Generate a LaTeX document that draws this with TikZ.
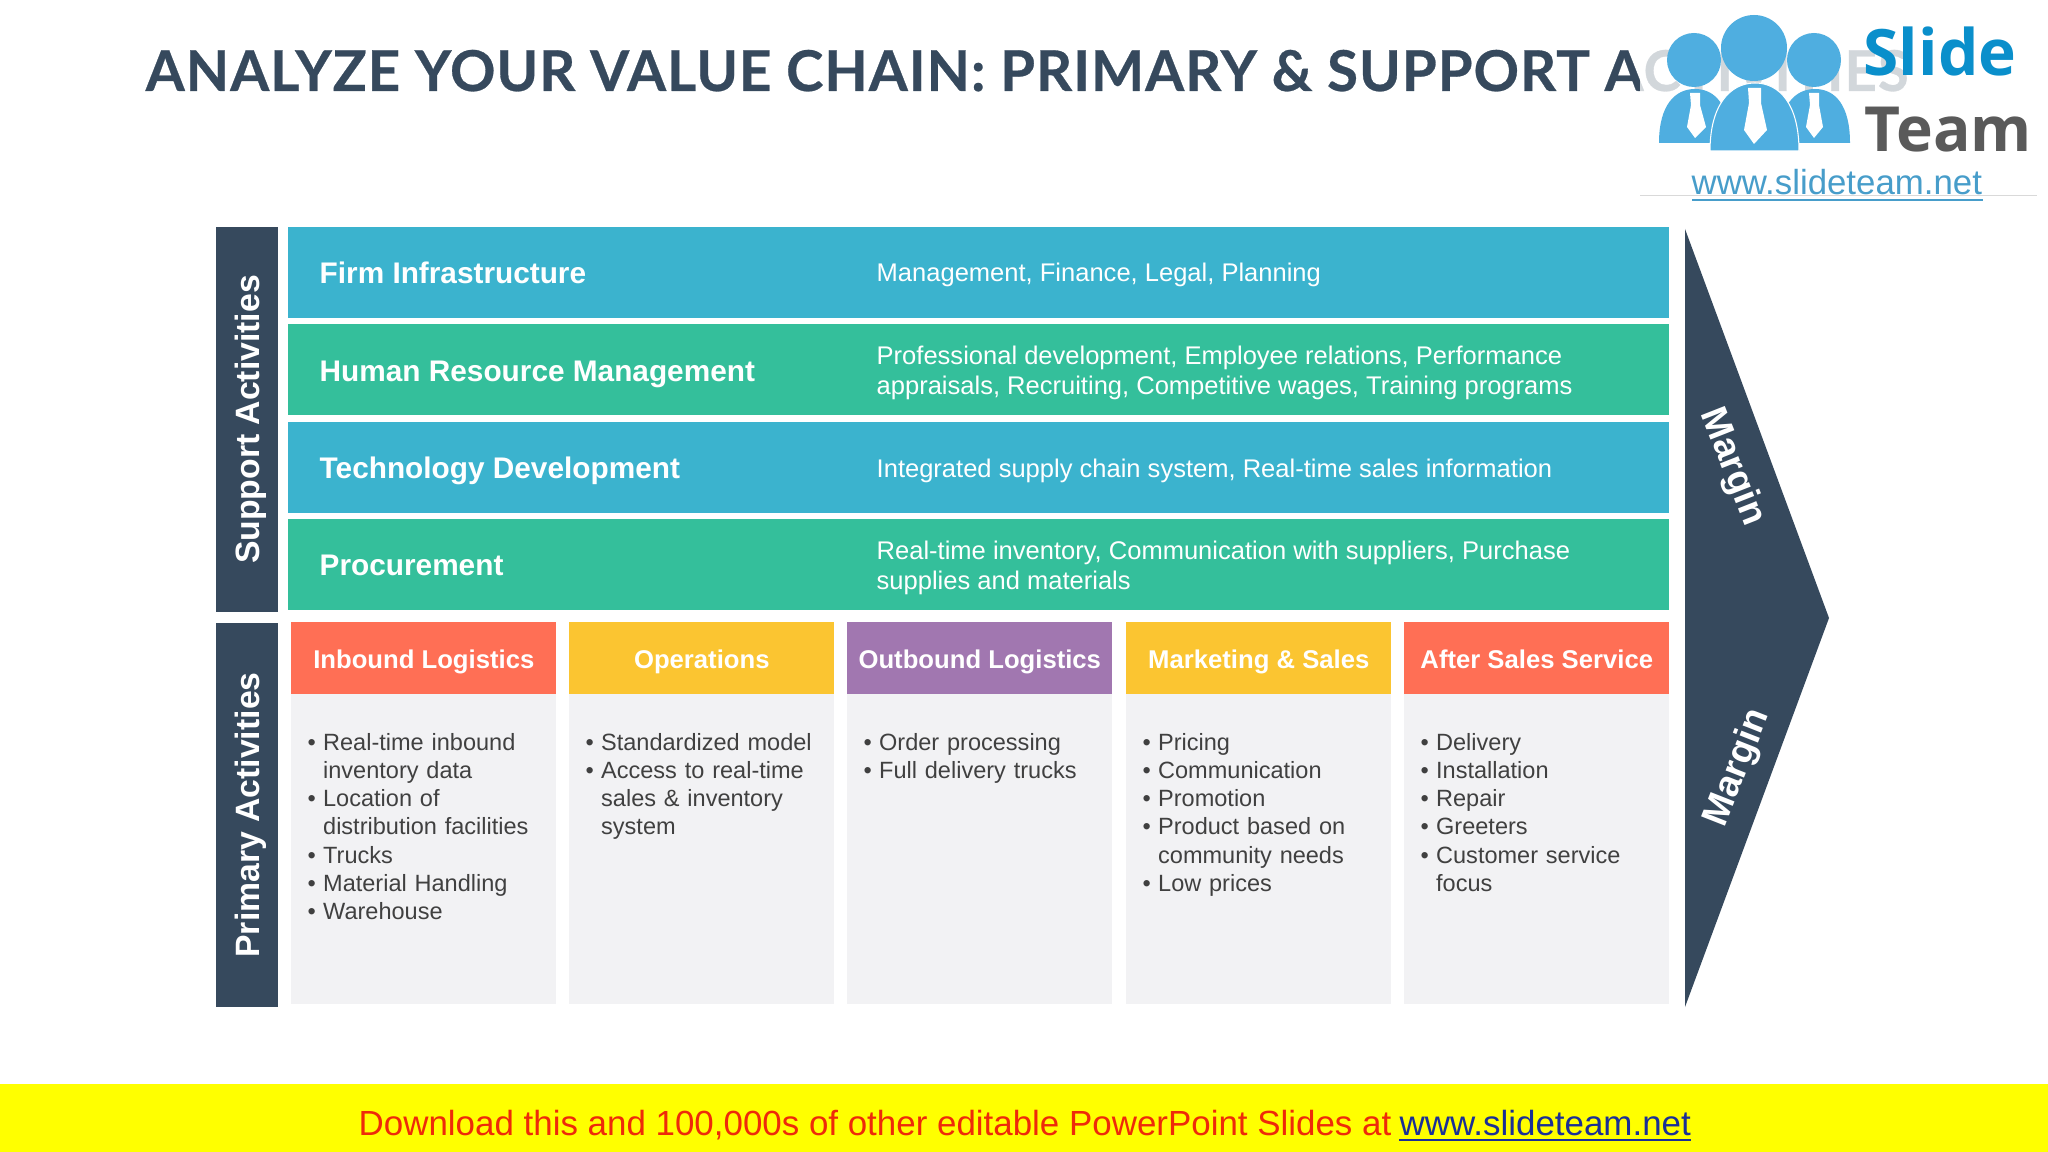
\documentclass[tikz,border=0pt]{standalone}
\usepackage{fontspec}
\setmainfont{Liberation Sans}
\newfontfamily\titlefont[LetterSpace=1.8,BoldFeatures={FakeBold=0.5}]{Lato}
\newfontfamily\logofont{Open Sans}
\usetikzlibrary{positioning, shapes}
\definecolor{darkbar}{HTML}{36495D}
\definecolor{rowblue}{HTML}{3BB3CE}
\definecolor{rowgreen}{HTML}{34BF9B}
\definecolor{headred}{HTML}{FF6F55}
\definecolor{headyellow}{HTML}{FBC531}
\definecolor{headpurple}{HTML}{A177B0}
\definecolor{bodygrey}{HTML}{F2F2F4}
\definecolor{textgrey}{HTML}{404040}
\definecolor{logoblue}{HTML}{4FAEE0}
\definecolor{slideblue}{HTML}{0A8FCB}
\definecolor{teamgrey}{HTML}{5A5A5A}
\definecolor{bandyellow}{HTML}{FFFF00}
\definecolor{bandred}{HTML}{EE2A0A}
\definecolor{bandblue}{HTML}{1A2F96}
\newcommand{\bul}{\par\hangindent=4.4pt\hangafter=1\makebox[4.4pt][l]{\textbullet}\ignorespaces}

\begin{document}
\begin{tikzpicture}[x=0.01cm,y=-0.01cm,
    sidebar/.style = {fill=darkbar, minimum width=17.7pt, inner sep=0pt},
    sidetext/.style = {text=white, rotate=90, font=\bfseries\fontsize{9.6}{12}\selectfont},
    rowbox/.style = {anchor=north west, minimum width=392.9pt, minimum height=25.7pt, inner sep=0pt},
    rowtitle/.style = {anchor=base west, text=white, inner sep=0pt, font=\bfseries\fontsize{8.47}{10}\selectfont},
    rowtext/.style = {anchor=west, text=white, inner sep=0pt, align=left, font=\fontsize{7.26}{8.6}\selectfont},
    headbox/.style = {anchor=north west, minimum width=75.4pt, minimum height=20.5pt, inner sep=0pt,
        text height=6.6pt, text depth=0.8pt, text=white, font=\bfseries\fontsize{7.3}{9}\selectfont},
    bodybox/.style = {anchor=north west, fill=bodygrey, minimum width=75.4pt, minimum height=88.2pt, inner sep=0pt},
    bodytext/.style = {anchor=north west, text=textgrey, text width=72pt, align=left, inner sep=0pt,
        font=\fontsize{6.69}{8.03}\selectfont},
    margintext/.style = {text=white, font=\bfseries\fontsize{10.6}{12}\selectfont}]

    \useasboundingbox (0,0) rectangle (2048,1152);
    \fill[white] (0,0) rectangle (2048,1152);

    % title, the logo panel goes over its end
    \node[anchor=base west, inner sep=0pt, text=darkbar, font=\titlefont\bfseries\fontsize{16}{20}\selectfont] (title) at (145,91)
        {ANALYZE YOUR VALUE CHAIN: PRIMARY \& SUPPORT ACTIVITIES};

    % side bars
    \node[sidebar, minimum height=109.5pt] (support) at (247,419.5) {};
    \node[sidebar, minimum height=109.2pt] (primary) at (247,815) {};
    \node[sidetext] (supporttext) at (251,419.5) {Support Activities};
    \node[sidetext] (primarytext) at (251,815) {Primary Activities};

    % support rows
    \node[rowbox, fill=rowblue] (firm) at (287,226.5) {};
    \node[rowbox, fill=rowgreen] (human) at (287,323.5) {};
    \node[rowbox, fill=rowblue] (tech) at (287,421.5) {};
    \node[rowbox, fill=rowgreen] (proc) at (287,518.5) {};

    \node[rowtitle] (firmtitle) at (319,283.4) {Firm Infrastructure};
    \node[rowtitle] (humantitle) at (319,381.4) {Human Resource Management};
    \node[rowtitle] (techtitle) at (319,478.4) {Technology Development};
    \node[rowtitle] (proctitle) at (319,575.8) {Procurement};

    \node[rowtext] (firmtext) at (876,275) {Management, Finance, Legal, Planning};
    \node[rowtext] (humantext) at (876,372.8) {Professional development, Employee relations, Performance\\appraisals, Recruiting, Competitive wages, Training programs};
    \node[rowtext] (techtext) at (876,470.5) {Integrated supply chain system, Real-time sales information};
    \node[rowtext] (proctext) at (876,568) {Real-time inventory, Communication with suppliers, Purchase\\supplies and materials};

    % primary columns
    \node[bodybox] (inboundbody) at (290.5,693.5) {};
    \node[bodybox] (opsbody) at (568.5,693.5) {};
    \node[bodybox] (outboundbody) at (846.5,693.5) {};
    \node[bodybox] (marketbody) at (1125.5,693.5) {};
    \node[bodybox] (afterbody) at (1403.5,693.5) {};

    \node[headbox, fill=headred] (inbound) at (290.5,621.5) {Inbound Logistics};
    \node[headbox, fill=headyellow] (ops) at (568.5,621.5) {Operations};
    \node[headbox, fill=headpurple] (outbound) at (846.5,621.5) {Outbound Logistics};
    \node[headbox, fill=headyellow] (market) at (1125.5,621.5) {Marketing \& Sales};
    \node[headbox, fill=headred] (after) at (1403.5,621.5) {After Sales Service};

    \node[bodytext] (inboundtext) at (307,721.2) {\bul Real-time inbound\newline inventory data\bul Location of\newline distribution facilities\bul Trucks\bul Material Handling\bul Warehouse\par};
    \node[bodytext] (opstext) at (585,721.2) {\bul Standardized model\bul Access to real-time\newline sales \& inventory\newline system\par};
    \node[bodytext] (outboundtext) at (863,721.2) {\bul Order processing\bul Full delivery trucks\par};
    \node[bodytext] (markettext) at (1142,721.2) {\bul Pricing\bul Communication\bul Promotion\bul Product based on\newline community needs\bul Low prices\par};
    \node[bodytext] (aftertext) at (1420,721.2) {\bul Delivery\bul Installation\bul Repair\bul Greeters\bul Customer service\newline focus\par};

    % margin arrow
    \fill[darkbar] (1685,229) -- (1829,618) -- (1685,1007) -- cycle;
    \node[margintext, rotate=-68.5] (margintop) at (1732,467) {Margin};
    \node[margintext, rotate=68.5] (marginbottom) at (1738,768) {Margin};

    % logo panel
    \fill[white, fill opacity=0.78] (1640,0) rectangle (2037,195);
    \draw[black!15] (1640,195.5) -- (2037,195.5);
    \fill[logoblue] (1659,143) .. controls (1659,105) and (1675,89) .. (1695,89) .. controls (1715,89) and (1730,105) .. (1730,143) -- cycle;
    \fill[logoblue] (1779,143) .. controls (1779,105) and (1795,89) .. (1815,89) .. controls (1835,89) and (1850,105) .. (1850,143) -- cycle;
    \filldraw[fill=logoblue, draw=white, line width=0.3pt] (1710,151) .. controls (1710,105) and (1730,83) .. (1755,83) .. controls (1780,83) and (1799,105) .. (1799,151) -- cycle;
    \fill[logoblue] (1694,60) circle (27);
    \fill[logoblue] (1814,60) circle (27);
    \fill[logoblue] (1754,48) circle (33);
    \fill[white] (1690,93) -- (1700,93) -- (1700,105) -- (1706,127) -- (1695,138) -- (1687,127) -- (1691,105) -- cycle;
    \fill[white] (1809,93) -- (1819,93) -- (1819,105) -- (1823,127) -- (1814,138) -- (1806,127) -- (1810,105) -- cycle;
    \fill[white] (1748,88) -- (1761,88) -- (1761,103) -- (1767,130) -- (1754,144) -- (1744,130) -- (1749,103) -- cycle;
    \node[anchor=base west, inner sep=0pt, text=slideblue, font=\logofont\bfseries\fontsize{18.2}{22}\selectfont] (slide) at (1863,76) {Slide};
    \node[anchor=base west, inner sep=0pt, text=teamgrey, font=\logofont\bfseries\fontsize{17.7}{22}\selectfont] (team) at (1864,152) {Team};
    \node[anchor=base west, inner sep=0pt, text=logoblue!90!black, font=\fontsize{9.9}{11}\selectfont] (url) at (1691,195) {www.slideteam.net};
    \draw[logoblue!90!black, line width=0.5pt] (1692,200) -- (1983,200);

    % download band
    \fill[bandyellow] (0,1084) rectangle (2048,1152);
    \node[anchor=base west, inner sep=0pt, text=bandred, font=\fontsize{9.93}{12}\selectfont] (download) at (358,1135) {Download this and 100,000s of other editable PowerPoint Slides at};
    \node[anchor=base west, inner sep=0pt, text=bandblue, font=\fontsize{9.93}{12}\selectfont] (site) at (1399,1135) {www.slideteam.net};
    \draw[bandblue, line width=0.5pt] (1399,1140) -- (1691,1140);
\end{tikzpicture}
\end{document}
